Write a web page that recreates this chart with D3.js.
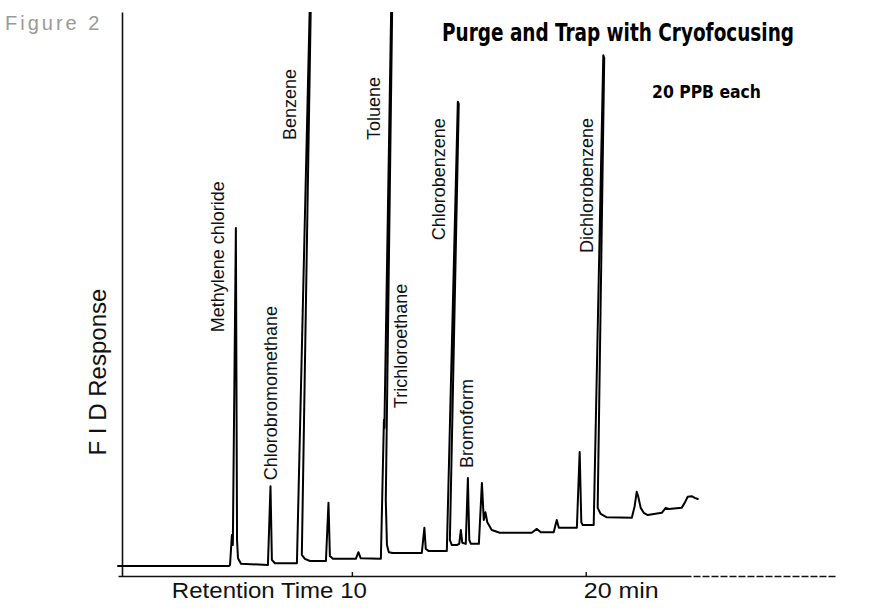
<!DOCTYPE html>
<html>
<head>
<meta charset="utf-8">
<script src="https://cdn.jsdelivr.net/npm/d3@7"></script>
<style>
  html, body { margin: 0; padding: 0; background: #fff; }
  svg { display: block; }
</style>
</head>
<body>
<div id="chart"></div>
<script>
// ---------------- DATA ----------------
// Chromatogram trace: retention time (min) and FID response (arbitrary units), in pen order
const traceTimes = [
  0, 4.74, 4.79, 4.87, 4.91, 5.04, 5.09, 5.13, 5.26, 6.41,
  6.52, 6.58, 6.71, 7.65, 8.21, 8.25, 7.86, 7.99, 8.21, 8.89,
  9.0, 9.06, 9.19, 10.17, 10.28, 10.38, 11.2, 11.24, 11.37, 11.39,
  11.69, 11.73, 11.45, 11.5, 11.58, 11.75, 12.99, 13.1, 13.16, 13.29,
  14.06, 14.53, 14.57, 14.19, 14.27, 14.49, 14.59, 14.66, 14.72, 14.87,
  14.96, 15.02, 15.09, 15.43, 15.56, 15.64, 15.71, 15.79, 15.98, 16.32,
  17.69, 17.91, 18.08, 18.63, 18.76, 18.85, 19.62, 19.74, 19.81, 19.87,
  20.34, 20.75, 20.79, 20.51, 20.64, 20.9, 21.97, 22.09, 22.18, 22.24,
  22.35, 22.48, 22.65, 23.25, 23.42, 23.55, 24.1, 24.23, 24.36, 24.53,
  24.66, 24.79
];
const traceResponse = [
  0, 0, 0.2, 5.6, 3.8, 61.0, 4.7, 1.4, 0.4, 0.2,
  14.4, 1.1, 0.5, 0.5, 103, 103, 2.0, 1.3, 0.9, 0.9,
  11.4, 1.8, 1.3, 1.3, 2.5, 1.4, 1.3, 1.3, 26.4, 24.9,
  103, 103, 11.9, 3.8, 2.5, 2.35, 2.35, 6.9, 3.1, 2.7,
  2.7, 83.8, 83.4, 4.7, 3.8, 3.8, 4.0, 6.5, 4.2, 4.0,
  15.9, 4.7, 4.0, 4.0, 15.0, 8.3, 9.7, 7.9, 6.5, 6.0,
  6.0, 6.7, 6.1, 6.1, 8.3, 6.9, 6.9, 20.6, 7.9, 7.4,
  7.4, 92.2, 91.7, 10.5, 9.4, 8.8, 8.7, 10.8, 13.4, 12.6,
  10.5, 9.6, 9.2, 9.6, 10.5, 10.3, 10.5, 11.4, 12.5, 12.6,
  12.3, 12.1
];

// Peak labels (compound names) and the point (time, response) where each label starts
const peakNames = [
  "Methylene chloride", "Chlorobromomethane", "Benzene", "Toluene",
  "Trichloroethane", "Chlorobenzene", "Bromoform", "Dichlorobenzene"
];
const peakLabelTimes  = [4.53, 6.80, 7.61, 11.20, 12.35, 13.97, 15.17, 20.30];
const peakLabelLevels = [42.2, 15.5, 76.9, 76.9, 28.5, 58.8, 17.7, 56.5];

// Axis ticks
const xTickValues = [10, 20];
const xTickLabels = ["Retention Time 10", "20 min"];

// Texts
const figureLabel = "Figure 2";
const titleText = "Purge and Trap with Cryofocusing";
const subtitleText = "20 PPB each";
const yAxisTitle = "F I D Response";

// ---------------- DRAWING ----------------
const W = 869, H = 610;
const svg = d3.select("#chart").append("svg")
  .attr("width", W).attr("height", H)
  .attr("viewBox", `0 0 ${W} ${H}`);

const x = d3.scaleLinear().domain([0, 30.7]).range([118, 836]);
const y = d3.scaleLinear().domain([-1.8, 100]).range([576, 12]);

const helv = "'Liberation Sans', Arial, Helvetica, sans-serif";
const cond = "'Liberation Sans Narrow', 'DejaVu Sans Condensed', 'Liberation Sans', Arial, sans-serif";

// clip for the trace (peaks run off the top of the chart)
svg.append("defs").append("clipPath").attr("id", "plotclip")
  .append("rect").attr("x", 0).attr("y", y(100)).attr("width", W).attr("height", H - y(100));

// bottom axis
const xAxis = d3.axisBottom(x)
  .tickValues(xTickValues)
  .tickSizeInner(-4)
  .tickSizeOuter(0)
  .tickFormat("");
const gx = svg.append("g")
  .attr("transform", `translate(0,${y(-1.8)})`)
  .call(xAxis);
gx.select(".domain").attr("stroke", "#111").attr("stroke-width", 1.4)
  .attr("stroke-dasharray", (function(){
    const solid = x(24.5) - x(0);
    const arr = [solid];
    for (let i = 0; i < 40; i++) { arr.push(2, 7); }
    return arr.join(" ");
  })());
gx.selectAll(".tick line").attr("stroke", "#111").attr("stroke-width", 1.4);

// tick labels
const tickLabelLengths = [195, 75];
svg.append("g").selectAll("text")
  .data(xTickValues)
  .join("text")
  .attr("x", (d, i) => i === 0 ? x(d) + 15 - tickLabelLengths[0] : x(d) - 2)
  .attr("y", 598)
  .attr("text-anchor", "start")
  .attr("font-family", helv)
  .attr("font-size", 22)
  .attr("textLength", (d, i) => tickLabelLengths[i])
  .attr("lengthAdjust", "spacingAndGlyphs")
  .attr("fill", "#111")
  .text((d, i) => xTickLabels[i]);

// left axis (plain vertical line)
const yAxis = d3.axisLeft(y).tickValues([]).tickSizeOuter(0);
const gy = svg.append("g")
  .attr("transform", `translate(122,0)`)
  .call(yAxis);
gy.select(".domain").attr("stroke", "#111").attr("stroke-width", 1.6);

// trace
const pts = traceTimes.map((t, i) => [t, traceResponse[i]]);
const line = d3.line().x(d => x(d[0])).y(d => y(d[1])).curve(d3.curveLinear);
svg.append("path")
  .datum(pts)
  .attr("clip-path", "url(#plotclip)")
  .attr("d", line)
  .attr("fill", "none")
  .attr("stroke", "#000")
  .attr("stroke-width", 2)
  .attr("stroke-linejoin", "round")
  .attr("stroke-linecap", "round");

// peak labels, rotated
svg.append("g").selectAll("text")
  .data(peakNames)
  .join("text")
  .attr("transform", (d, i) => `translate(${x(peakLabelTimes[i])},${y(peakLabelLevels[i])}) rotate(-90)`)
  .attr("text-anchor", "start")
  .attr("font-family", helv)
  .attr("font-size", 18)
  .attr("fill", "#111")
  .text(d => d);

// y-axis title
svg.append("text")
  .attr("transform", `translate(106,372) rotate(-90)`)
  .attr("text-anchor", "middle")
  .attr("font-family", helv)
  .attr("font-size", 23)
  .attr("textLength", 167)
  .attr("lengthAdjust", "spacingAndGlyphs")
  .attr("fill", "#111")
  .text(yAxisTitle);

// Figure label
svg.append("text")
  .attr("x", 5).attr("y", 30)
  .attr("font-family", helv)
  .attr("font-size", 20)
  .attr("letter-spacing", 3)
  .attr("fill", "#9a9a9a")
  .text(figureLabel);

// Title
svg.append("text")
  .attr("x", 442).attr("y", 41)
  .attr("font-family", cond)
  .attr("font-weight", "bold")
  .attr("font-size", 24)
  .attr("textLength", 352)
  .attr("lengthAdjust", "spacingAndGlyphs")
  .attr("fill", "#000")
  .text(titleText);

svg.append("text")
  .attr("x", 652).attr("y", 98)
  .attr("font-family", cond)
  .attr("font-weight", "bold")
  .attr("font-size", 18)
  .attr("textLength", 109)
  .attr("lengthAdjust", "spacingAndGlyphs")
  .attr("fill", "#000")
  .text(subtitleText);
</script>
</body>
</html>
